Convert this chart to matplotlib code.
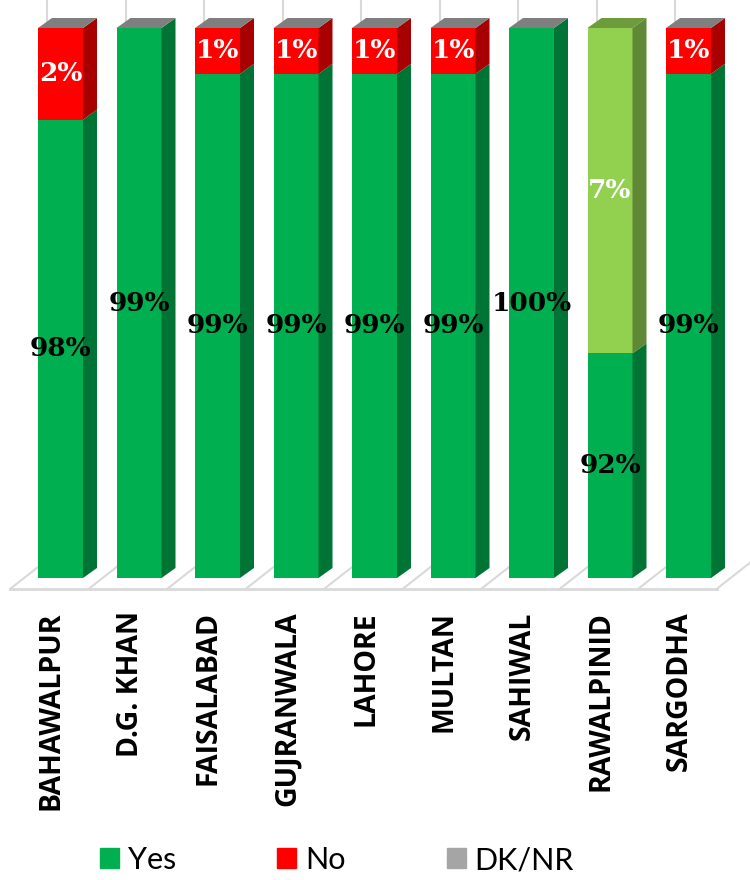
import numpy as np
import matplotlib.pyplot as plt
from matplotlib.patches import Polygon, Patch
from matplotlib.colors import to_rgb
from matplotlib.transforms import ScaledTranslation

cities = ["BAHAWALPUR", "D.G. KHAN", "FAISALABAD", "GUJRANWALA", "LAHORE",
          "MULTAN", "SAHIWAL", "RAWALPINID", "SARGODHA"]
yes = [98.0, 100.0, 99.0, 99.0, 99.0, 99.0, 100.0, 92.9, 99.0]
no = [2.0, 0.0, 1.0, 1.0, 1.0, 1.0, 0.0, 7.1, 1.0]
dk = [0.0, 0.0, 0.0, 0.0, 0.0, 0.0, 0.0, np.nan, 0.0]
yes_labels = ["98%", "99%", "99%", "99%", "99%", "99%", "100%", "92%", "99%"]
no_labels = ["2%", "", "1%", "1%", "1%", "1%", "", "7%", "1%"]

GREEN = "#00B050"
RED = "#FF0000"
LIGHT = "#92D050"
GRAY = "#A5A5A5"
TOP_GRAY = "#7F7F7F"
no_point_colors = {7: LIGHT}

ymin, ymax = 88, 100


def shade(c, f):
    r, g, b = to_rgb(c)
    return (r * f, g * f, b * f)


fig = plt.figure(figsize=(7.5, 8.8), dpi=100)
ax = fig.add_axes([0, 302 / 880, 1, 550 / 880])
ax.set_xlim(-60.5 / 78.5, (750 - 60.5) / 78.5)
ax.set_ylim(ymin, ymax)
for s in ax.spines.values():
    s.set_visible(False)
ax.set_yticks([])

# pixel -> data scale
px_x = 1 / 78.5
px_y = (ymax - ymin) / 550
w = 45 * px_x
ddx, ddy = 14 * px_x, 10 * px_y

x = np.arange(len(cities))

# floor
fdx, fdy = 37 * px_x, 29 * px_y
floor_front = ymin - 11 * px_y
bounds = np.arange(len(cities) + 1) - 0.643
ax.plot([bounds[0], bounds[-1]], [floor_front, floor_front], color="#D9D9D9",
        lw=2, clip_on=False, zorder=1)
for b in bounds:
    ax.plot([b, b + fdx], [floor_front, floor_front + fdy], color="#D9D9D9",
            lw=1.5, clip_on=False, zorder=1)
    ax.plot([b + fdx, b + fdx], [floor_front + fdy, ymax + 40 * px_y],
            color="#D9D9D9", lw=1.5, clip_on=False, zorder=1)


def box(xc, y0, y1, color, top=None):
    xr = xc + w / 2
    ax.bar(xc, y1 - y0, bottom=y0, width=w, color=color, zorder=3,
           clip_on=False)
    side = Polygon([(xr, y0), (xr + ddx, y0 + ddy), (xr + ddx, y1 + ddy), (xr, y1)],
                   closed=True, facecolor=shade(color, 0.66), edgecolor="none",
                   zorder=3, clip_on=False)
    ax.add_patch(side)
    if top is not None:
        tp = Polygon([(xc - w / 2, y1), (xc - w / 2 + ddx, y1 + ddy),
                      (xr + ddx, y1 + ddy), (xr, y1)], closed=True,
                     facecolor=top, edgecolor="none", zorder=3, clip_on=False)
        ax.add_patch(tp)


for i in x:
    y_top = min(yes[i], ymax)
    n_top = min(yes[i] + no[i], ymax)
    ncol = no_point_colors.get(i, RED)
    if np.isnan(dk[i]):
        top_col = shade(ncol if no[i] > 0 else GREEN, 0.75)
    else:
        top_col = TOP_GRAY
    box(i, ymin, y_top, GREEN, top=top_col if n_top <= y_top else None)
    if n_top > y_top:
        box(i, y_top, n_top, ncol, top=top_col)
    ax.text(i, (ymin + y_top) / 2, yes_labels[i], ha="center", va="center",
            fontsize=19, fontweight="bold", family="DejaVu Serif",
            color="black", zorder=5)
    if no_labels[i]:
        ax.text(i, (y_top + n_top) / 2, no_labels[i], ha="center", va="center",
                fontsize=19, fontweight="bold", family="DejaVu Serif",
                color="white", zorder=5)

ax.set_xticks(x)
ax.set_xticklabels(cities, rotation=90, va="top", ha="center",
                   fontsize=20.5, fontweight="bold", family="Open Sans")
ax.tick_params(axis="x", length=0, pad=24)
for lab in ax.get_xticklabels():
    lab.set_transform(lab.get_transform() +
                      ScaledTranslation(-9 / 100, 0, fig.dpi_scale_trans))

handles = [Patch(color=GREEN, label="Yes"), Patch(color=RED, label="No"),
           Patch(color=GRAY, label="DK/NR")]
fig.legend(handles=handles, loc="center left", bbox_to_anchor=(100 / 750, 20 / 880),
           ncol=3, frameon=False, prop={"family": "Lato", "size": 22},
           handlelength=0.62, handleheight=0.62, handletextpad=0.3,
           columnspacing=3.3, borderpad=0, borderaxespad=0)

fig.savefig("out.png", dpi=100)
